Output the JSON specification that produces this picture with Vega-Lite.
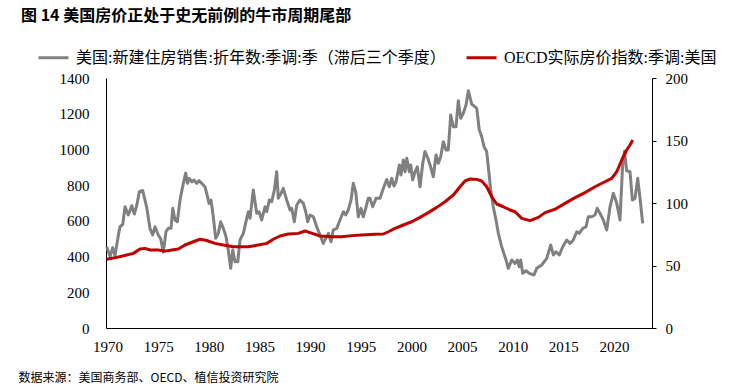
{
  "$schema": "https://vega.github.io/schema/vega-lite/v6.json",
  "width": 546,
  "height": 250,
  "autosize": {"type": "none"},
  "padding": {"left": 106, "top": 78, "right": 78, "bottom": 64},
  "background": "white",
  "title": {
    "text": "图 14 美国房价正处于史无前例的牛市周期尾部",
    "anchor": "start",
    "frame": "group",
    "font": "Noto Sans CJK SC",
    "fontSize": 16,
    "fontWeight": "bold",
    "color": "black",
    "baseline": "top",
    "dx": -85,
    "dy": -17,
    "offset": 0
  },
  "config": {
    "view": {"stroke": null},
    "axis": {"labelFlush": false, "labelOverlap": false, "grid": false, "domainColor": "black", "domainWidth": 1, "tickColor": "black", "labelColor": "black", "labelFont": "Liberation Serif", "labelFontSize": 15}
  },
  "encoding": {
    "x": {
      "field": "year",
      "type": "quantitative",
      "scale": {"domain": [1969.85, 2023.75], "nice": false, "zero": false},
      "axis": {
        "values": [1970, 1975, 1980, 1985, 1990, 1995, 2000, 2005, 2010, 2015, 2020],
        "format": "d",
        "ticks": false,
        "labelPadding": 11,
        "title": "数据来源：美国商务部、OECD、植信投资研究院",
        "titleX": -88,
        "titleY": 49,
        "titleAlign": "left",
        "titleAnchor": "start",
        "titleBaseline": "middle",
        "titleFont": "Noto Sans CJK SC",
        "titleFontSize": 12,
        "titleFontWeight": "normal",
        "titleColor": "black"
      }
    }
  },
  "layer": [
    {
      "data": {"values": [
        {"year":1969.92,"value":455},{"year":1970.25,"value":400},{"year":1970.51,"value":450},{"year":1970.74,"value":405},{"year":1971.07,"value":520},{"year":1971.23,"value":567},{"year":1971.5,"value":580},{"year":1971.73,"value":679},{"year":1972.05,"value":633},{"year":1972.39,"value":685},{"year":1972.65,"value":638},{"year":1972.88,"value":685},{"year":1973.14,"value":763},{"year":1973.47,"value":770},{"year":1973.87,"value":675},{"year":1974.2,"value":555},{"year":1974.46,"value":521},{"year":1974.69,"value":567},{"year":1975.01,"value":521},{"year":1975.25,"value":500},{"year":1975.51,"value":425},{"year":1975.77,"value":540},{"year":1976.0,"value":558},{"year":1976.27,"value":558},{"year":1976.44,"value":670},{"year":1976.66,"value":605},{"year":1976.89,"value":595},{"year":1977.16,"value":717},{"year":1977.48,"value":810},{"year":1977.72,"value":868},{"year":1977.88,"value":810},{"year":1978.07,"value":838},{"year":1978.31,"value":819},{"year":1978.54,"value":829},{"year":1978.81,"value":810},{"year":1979.03,"value":825},{"year":1979.3,"value":810},{"year":1979.62,"value":791},{"year":1979.79,"value":754},{"year":1980.02,"value":698},{"year":1980.22,"value":717},{"year":1980.44,"value":623},{"year":1980.68,"value":502},{"year":1980.94,"value":530},{"year":1981.17,"value":595},{"year":1981.43,"value":558},{"year":1981.7,"value":511},{"year":1981.92,"value":437},{"year":1982.16,"value":334},{"year":1982.36,"value":437},{"year":1982.59,"value":371},{"year":1982.86,"value":371},{"year":1983.08,"value":493},{"year":1983.41,"value":530},{"year":1983.74,"value":614},{"year":1983.9,"value":651},{"year":1984.07,"value":614},{"year":1984.39,"value":773},{"year":1984.73,"value":642},{"year":1984.96,"value":651},{"year":1985.22,"value":605},{"year":1985.55,"value":679},{"year":1985.72,"value":651},{"year":1985.97,"value":717},{"year":1986.21,"value":707},{"year":1986.47,"value":773},{"year":1986.7,"value":875},{"year":1986.86,"value":726},{"year":1987.13,"value":754},{"year":1987.35,"value":782},{"year":1987.69,"value":717},{"year":1988.02,"value":661},{"year":1988.18,"value":670},{"year":1988.44,"value":595},{"year":1988.68,"value":689},{"year":1989.0,"value":717},{"year":1989.33,"value":698},{"year":1989.57,"value":651},{"year":1989.76,"value":595},{"year":1989.99,"value":633},{"year":1990.32,"value":623},{"year":1990.65,"value":567},{"year":1990.98,"value":521},{"year":1991.3,"value":474},{"year":1991.54,"value":502},{"year":1991.8,"value":530},{"year":1992.06,"value":483},{"year":1992.29,"value":549},{"year":1992.63,"value":558},{"year":1992.95,"value":605},{"year":1993.28,"value":651},{"year":1993.51,"value":633},{"year":1993.77,"value":661},{"year":1994.04,"value":717},{"year":1994.26,"value":810},{"year":1994.5,"value":763},{"year":1994.76,"value":623},{"year":1995.02,"value":670},{"year":1995.25,"value":623},{"year":1995.49,"value":670},{"year":1995.74,"value":726},{"year":1995.91,"value":726},{"year":1996.18,"value":679},{"year":1996.51,"value":726},{"year":1996.9,"value":726},{"year":1997.17,"value":773},{"year":1997.56,"value":832},{"year":1997.82,"value":791},{"year":1998.06,"value":838},{"year":1998.28,"value":795},{"year":1998.48,"value":819},{"year":1998.81,"value":913},{"year":1998.97,"value":857},{"year":1999.2,"value":941},{"year":1999.37,"value":875},{"year":1999.54,"value":950},{"year":1999.79,"value":875},{"year":1999.93,"value":913},{"year":2000.13,"value":829},{"year":2000.36,"value":875},{"year":2000.58,"value":903},{"year":2000.85,"value":791},{"year":2001.12,"value":922},{"year":2001.34,"value":988},{"year":2001.57,"value":959},{"year":2001.84,"value":913},{"year":2002.16,"value":847},{"year":2002.43,"value":969},{"year":2002.66,"value":922},{"year":2002.89,"value":959},{"year":2003.15,"value":1043},{"year":2003.42,"value":997},{"year":2003.64,"value":997},{"year":2003.88,"value":1193},{"year":2004.14,"value":1127},{"year":2004.4,"value":1127},{"year":2004.63,"value":1273},{"year":2004.87,"value":1174},{"year":2005.12,"value":1202},{"year":2005.39,"value":1249},{"year":2005.62,"value":1329},{"year":2005.95,"value":1254},{"year":2006.28,"value":1239},{"year":2006.45,"value":1230},{"year":2006.7,"value":1109},{"year":2006.94,"value":1071},{"year":2007.17,"value":1015},{"year":2007.43,"value":988},{"year":2007.59,"value":903},{"year":2007.83,"value":773},{"year":2008.08,"value":679},{"year":2008.35,"value":605},{"year":2008.58,"value":530},{"year":2008.91,"value":455},{"year":2009.34,"value":381},{"year":2009.56,"value":334},{"year":2009.9,"value":381},{"year":2010.23,"value":362},{"year":2010.45,"value":381},{"year":2010.65,"value":343},{"year":2010.79,"value":381},{"year":2010.99,"value":306},{"year":2011.31,"value":321},{"year":2011.64,"value":306},{"year":2012.1,"value":297},{"year":2012.37,"value":334},{"year":2012.86,"value":353},{"year":2013.36,"value":390},{"year":2013.75,"value":465},{"year":2014.01,"value":409},{"year":2014.27,"value":427},{"year":2014.6,"value":409},{"year":2014.94,"value":455},{"year":2015.33,"value":493},{"year":2015.66,"value":474},{"year":2015.98,"value":493},{"year":2016.32,"value":539},{"year":2016.57,"value":530},{"year":2016.91,"value":558},{"year":2017.24,"value":567},{"year":2017.46,"value":623},{"year":2017.8,"value":623},{"year":2018.12,"value":633},{"year":2018.35,"value":670},{"year":2018.62,"value":642},{"year":2018.94,"value":605},{"year":2019.28,"value":549},{"year":2019.61,"value":679},{"year":2019.93,"value":754},{"year":2020.27,"value":698},{"year":2020.59,"value":605},{"year":2020.86,"value":922},{"year":2021.04,"value":990},{"year":2021.25,"value":880},{"year":2021.58,"value":875},{"year":2021.81,"value":717},{"year":2022.07,"value":726},{"year":2022.34,"value":838},{"year":2022.57,"value":726},{"year":2022.83,"value":586}
      ]},
      "mark": {"type": "line", "strokeWidth": 3, "strokeJoin": "round"},
      "encoding": {
        "y": {
          "field": "value",
          "type": "quantitative",
          "scale": {"domain": [0, 1400], "nice": false},
          "axis": {"orient": "left", "values": [0, 200, 400, 600, 800, 1000, 1200, 1400], "format": "d", "ticks": false, "labelPadding": 17, "title": null}
        },
        "color": {
          "datum": "美国:新建住房销售:折年数:季调:季（滞后三个季度）",
          "type": "nominal",
          "scale": {
            "domain": ["美国:新建住房销售:折年数:季调:季（滞后三个季度）", "OECD实际房价指数:季调:美国"],
            "range": ["#808080", "#C00000"]
          },
          "legend": {
            "orient": "none",
            "legendX": -69,
            "legendY": -37,
            "direction": "horizontal",
            "title": null,
            "padding": 0,
            "symbolType": "stroke",
            "symbolStrokeWidth": 3,
            "symbolSize": 900,
            "labelFont": "Liberation Serif, Noto Sans CJK SC",
            "labelFontSize": 16,
            "labelColor": "black",
            "labelLimit": 600,
            "labelOffset": 6,
            "columnPadding": 14
          }
        }
      }
    },
    {
      "data": {"values": [
        {"year":1969.92,"value":55},{"year":1970.91,"value":56.5},{"year":1971.9,"value":58.4},{"year":1972.55,"value":59.7},{"year":1973.21,"value":63.2},{"year":1973.7,"value":63.7},{"year":1974.2,"value":62.4},{"year":1975.01,"value":62.4},{"year":1975.68,"value":61.5},{"year":1976.34,"value":62.4},{"year":1976.99,"value":63.2},{"year":1977.65,"value":66.4},{"year":1978.47,"value":69},{"year":1979.13,"value":71},{"year":1979.79,"value":70},{"year":1980.61,"value":67.7},{"year":1981.43,"value":66.4},{"year":1982.42,"value":65},{"year":1983.9,"value":65},{"year":1984.89,"value":66.4},{"year":1985.72,"value":67.7},{"year":1986.37,"value":71},{"year":1987.03,"value":73.6},{"year":1987.85,"value":75.2},{"year":1988.84,"value":75.7},{"year":1989.5,"value":77.6},{"year":1989.99,"value":76.3},{"year":1990.98,"value":73.6},{"year":1992.13,"value":73},{"year":1993.12,"value":73},{"year":1994.11,"value":73.9},{"year":1995.09,"value":74.4},{"year":1996.41,"value":75},{"year":1997.23,"value":75.2},{"year":1997.72,"value":77},{"year":1998.38,"value":79.7},{"year":1999.2,"value":82.4},{"year":2000.03,"value":85},{"year":2000.85,"value":88.5},{"year":2001.67,"value":92.3},{"year":2002.5,"value":96.5},{"year":2003.32,"value":101},{"year":2004.14,"value":106.4},{"year":2004.8,"value":113},{"year":2005.29,"value":117.6},{"year":2005.79,"value":119.2},{"year":2006.45,"value":118.9},{"year":2006.94,"value":117.6},{"year":2007.43,"value":113},{"year":2007.93,"value":105},{"year":2008.42,"value":99.2},{"year":2009.07,"value":97},{"year":2009.73,"value":94.4},{"year":2010.23,"value":93},{"year":2010.89,"value":87.7},{"year":2011.71,"value":85.9},{"year":2012.53,"value":88.5},{"year":2013.19,"value":92.3},{"year":2014.18,"value":95},{"year":2015.16,"value":99.7},{"year":2016.15,"value":104.3},{"year":2017.14,"value":108.3},{"year":2018.12,"value":113},{"year":2019.11,"value":117},{"year":2019.77,"value":119.7},{"year":2020.27,"value":125},{"year":2020.76,"value":134.4},{"year":2021.25,"value":142.4},{"year":2021.58,"value":146.4},{"year":2021.85,"value":150.4}
      ]},
      "mark": {"type": "line", "strokeWidth": 3, "strokeJoin": "round"},
      "encoding": {
        "y": {
          "field": "value",
          "type": "quantitative",
          "scale": {"domain": [0, 200], "nice": false},
          "axis": {"orient": "right", "values": [0, 50, 100, 150, 200], "format": "d", "ticks": true, "tickSize": 4, "labelPadding": 9, "title": null}
        },
        "color": {"datum": "OECD实际房价指数:季调:美国", "type": "nominal"}
      }
    }
  ],
  "resolve": {"scale": {"y": "independent"}, "axis": {"y": "independent"}}
}
